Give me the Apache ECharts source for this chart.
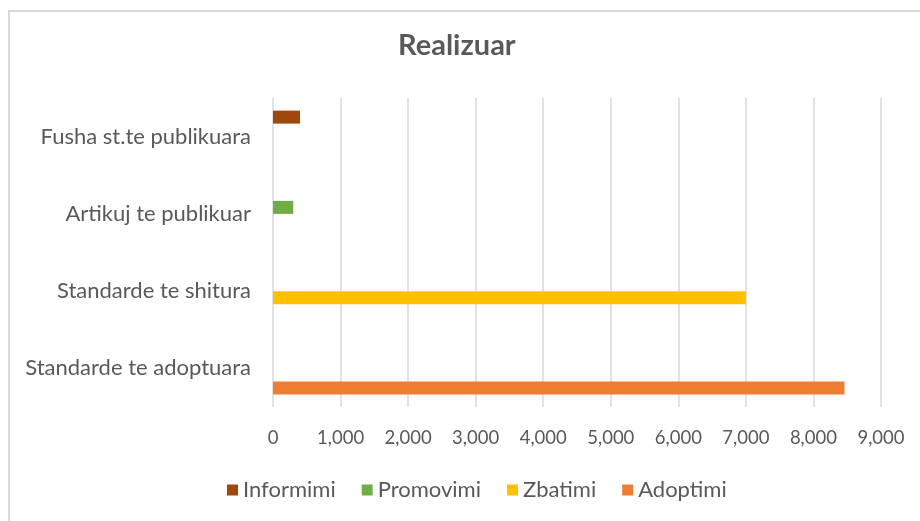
<!DOCTYPE html>
<html>
<head>
<meta charset="utf-8">
<script src="https://cdn.jsdelivr.net/npm/echarts@6/dist/echarts.min.js"></script>
<style>
  html, body { margin: 0; padding: 0; background: #fff; }
  #chart { width: 920px; height: 521px; }
</style>
</head>
<body>
<div id="chart"></div>
<script>
// categories, bottom to top (category axis starts at the bottom)
const categories = ["Standarde te adoptuara", "Standarde te shitura", "Artikuj te publikuar", "Fusha st.te publikuara"];
const seriesNames = ["Informimi", "Promovimi", "Zbatimi", "Adoptimi"];
const informimi = [null, null, null, 400];
const promovimi = [null, null, 300, null];
const zbatimi = [null, 7000, null, null];
const adoptimi = [8460, null, null, null];
const xTicks = [0, 1000, 2000, 3000, 4000, 5000, 6000, 7000, 8000, 9000];

const colors = ["#9E480E", "#70AD47", "#FFC000", "#ED7D31"];
const values = [informimi, promovimi, zbatimi, adoptimi];
const font = "Lato, 'Open Sans', sans-serif";

let chart = echarts.init(document.getElementById("chart"));
chart.setOption({
  animation: false,
  color: colors,
  title: {
    text: "Realizuar",
    left: 393,
    top: 26,
    textStyle: { fontFamily: font, fontSize: 29, fontWeight: "bold", color: "#595959" },
  },
  graphic: [
    {
      type: "rect",
      z: -1,
      shape: { x: 9, y: 11, width: 1000, height: 600 },
      style: { fill: "none", stroke: "#d9d9d9", lineWidth: 2 },
    },
  ],
  legend: {
    data: seriesNames,
    left: 222,
    top: 474,
    icon: "rect",
    itemWidth: 11,
    itemHeight: 11,
    itemGap: 26,
    textStyle: { fontFamily: font, fontSize: 22, color: "#595959" },
  },
  grid: { left: 273, right: 39, top: 98, bottom: 114, containLabel: false },
  xAxis: {
    type: "value",
    min: xTicks[0],
    max: xTicks[xTicks.length - 1],
    interval: 1000,
    axisLine: { show: false },
    axisTick: { show: false },
    splitLine: { lineStyle: { color: "#d9d9d9", width: 1.5 } },
    axisLabel: {
      margin: 22,
      fontFamily: font,
      fontSize: 18.5,
      color: "#595959",
      formatter: (v) => v.toLocaleString("en-US"),
    },
  },
  yAxis: {
    type: "category",
    data: categories,
    axisLine: { show: false },
    axisTick: { show: false },
    axisLabel: { margin: 22, fontFamily: font, fontSize: 22, color: "#595959" },
  },
  series: seriesNames.map((name, i) => ({
    name: name,
    type: "bar",
    data: values[i],
    barWidth: 13,
    barGap: "0%",
  })),
});
</script>
</body>
</html>
